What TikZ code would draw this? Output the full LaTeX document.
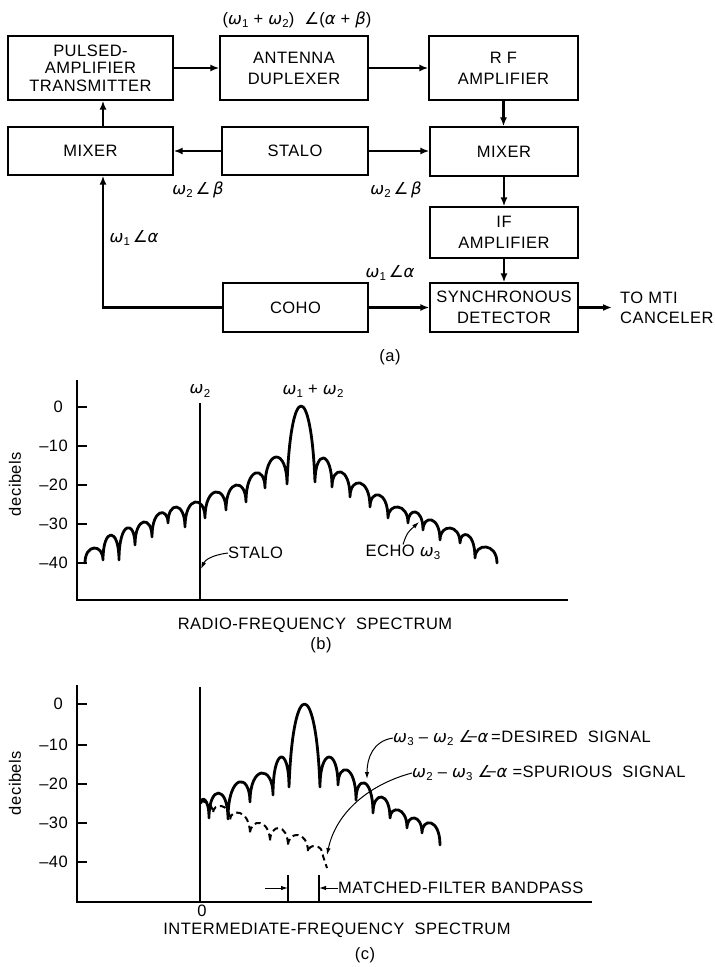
\documentclass[tikz,border=0pt]{standalone}
\usepackage{fontspec}
\setmainfont[LetterSpace=3]{Liberation Sans}
\newfontfamily\gk{DejaVu Sans}
\newcommand\w[1]{{\gk\itshape ω}\kern0.3pt\raisebox{-0.35ex}{\fontsize{11.5}{11.5}\selectfont #1}}
\newcommand\ang{{\gk ∠}}
\newcommand\angm{{\gk ∠}\kern-5.5pt\raisebox{0.5pt}{–}\kern0.5pt}
\newcommand\al{{\gk\itshape α}}
\newcommand\be{{\gk\itshape β}}
\usetikzlibrary{arrows.meta,calc}
\begin{document}
\begin{tikzpicture}[x=1pt,y=-1pt,
  box/.style={draw,line width=1.3pt,align=center,inner sep=0pt,font=\fontsize{16.5}{21}\selectfont},
  conn/.style={line width=2.4pt,-{Latex[length=9pt,width=7pt]}},
  lab/.style={font=\fontsize{16.5}{20}\selectfont,inner sep=0pt},
  ax/.style={line width=1.6pt},
  spec/.style={line width=2.8pt,line join=round,line cap=round},
  dspec/.style={line width=2pt,dash pattern=on 6pt off 4pt},
  pointer/.style={line width=1pt,-{Latex[length=7pt,width=4.5pt]}},
  thinline/.style={line width=1.3pt},
]
\useasboundingbox (0,0) rectangle (715,967);

% ---------------- (a) block diagram ----------------
\node[box,minimum width=165pt,minimum height=64pt,font=\fontsize{16.5}{17.5}\selectfont] (tx) at (90.5,68) {PULSED-\\AMPLIFIER\\TRANSMITTER};
\node[box,minimum width=148pt,minimum height=64pt] (dup) at (294,68) {ANTENNA\\DUPLEXER};
\node[box,minimum width=149pt,minimum height=64pt] (rf) at (503.5,68) {R F\\AMPLIFIER};
\node[box,minimum width=165pt,minimum height=48pt] (mixL) at (90.5,151) {MIXER};
\node[box,minimum width=146pt,minimum height=48pt] (stalo) at (295,151) {STALO};
\node[box,minimum width=148pt,minimum height=49pt] (mixR) at (504,151.5) {MIXER};
\node[box,minimum width=148pt,minimum height=51pt] (ifamp) at (504,232.5) {IF\\AMPLIFIER};
\node[box,minimum width=148pt,minimum height=49pt] (sync) at (504,307.5) {SYNCHRONOUS\\DETECTOR};
\node[box,minimum width=145pt,minimum height=49pt] (coho) at (295.5,307.5) {COHO};
\node[lab,anchor=west,align=left] (mti) at (620,308) {TO MTI\\CANCELER};
\coordinate (cx) at (103,0);
\coordinate (mtiend) at (612,307.5);

\draw[conn] (tx) -- (dup);
\draw[conn] (dup) -- (rf);
\draw[conn] (rf.south) -- (rf.south |- mixR.north);
\draw[conn] (mixR.south) -- (mixR.south |- ifamp.north);
\draw[conn] (ifamp.south) -- (ifamp.south |- sync.north);
\draw[conn] (stalo.west) -- (stalo.west -| mixL.east);
\draw[conn] (stalo.east) -- (stalo.east -| mixR.west);
\draw[conn] (mixL.north -| cx) -- (tx.south -| cx);
\draw[conn] (coho.west) -| (mixL.south -| cx);
\draw[conn] (coho.east) -- (coho.east -| sync.west);
\draw[conn] (sync.east) -- (mtiend);

\node[lab] (toplab) at (297,20) {(\w1 + \w2)\ \ \ang(\al\ + \be)};
\node[lab] (w2bL) at (198,190) {\w2\,\ang\,\be};
\node[lab] (w2bR) at (396,190) {\w2\,\ang\,\be};
\node[lab] (w1aL) at (134,238) {\w1\,\ang\al};
\node[lab] (w1aR) at (390,273) {\w1\,\ang\al};
\node[lab] (la) at (390,357) {(a)};

% ---------------- (b) RF spectrum ----------------
\draw[ax] (77,380) -- (77,600) -- (568,600);
\foreach \y/\t/\tx in {407/0/63,446/–10/68,485/–20/68,524/–30/68,563/–40/68}{
  \draw[ax] (77,\y) -- (87,\y);
  \node[lab,anchor=east] (tb\y) at (\tx,\y) {\t};
}
\node[lab,rotate=90] (db1) at (15,484) {decibels};
\draw[thinline] (200,403) -- (200,600);
\node[lab] (w2) at (200,391) {\w2};
\node[lab] (w12) at (313,391) {\w1 + \w2};

\draw[spec] (85,563) \foreach \xa/\ya/\xb/\yb/\p/\k in {
  85/563/103/560/548/0, 103/560/119/560/535/0, 119/560/135/545/528/0,
  135/545/152/537/522/0, 152/537/168/523/513/0, 168/523/185/527/507/0,
  185/527/205/518/502/0, 205/518/226/510/492/0, 226/510/246/502/485/0,
  246/502/265/488/473/0, 265/488/287/484/457/0, 287/484/315/482/406/4,
  315/482/332/487/458/0, 332/487/350/497/472/0, 350/497/370/507/483/0,
  370/507/388/518/495/0, 388/518/408/523/507/0, 408/523/423/530/512/0,
  423/530/440/540/520/0, 440/540/460/543/528/0, 460/543/475/558/535/0,
  475/558/497/563/547/0}
  { .. controls ({\xa+\k},{(\p-0.125*(\ya+\yb))/0.75}) and ({\xb-\k},{(\p-0.125*(\ya+\yb))/0.75}) .. (\xb,\yb) };

\node[lab,anchor=west] (stl) at (228,553) {STALO};
\draw[pointer] (stl.west) .. controls (212,555) and (205,560) .. (201,569);
\node[lab] (echo) at (403,552) {ECHO \w3};
\draw[pointer] (echo.north) .. controls (407,533) .. (419,522);
\node[lab] (rfs) at (315,625) {RADIO-FREQUENCY\ \ SPECTRUM};
\node[lab] (lb) at (321,645) {(b)};

% ---------------- (c) IF spectrum ----------------
\draw[ax] (77,685) -- (77,902) -- (592,902);
\foreach \y/\t/\tx in {704/0/63,745/–10/68,784/–20/68,823/–30/68,862/–40/68}{
  \draw[ax] (77,\y) -- (87,\y);
  \node[lab,anchor=east] (tc\y) at (\tx,\y) {\t};
}
\node[lab,rotate=90] (db2) at (15,783) {decibels};
\draw[thinline] (200,687) -- (200,902);
\node[lab] (zero) at (202,911) {0};

\draw[spec] (201,803) \foreach \xa/\ya/\xb/\yb/\p/\k in {
  201/803/209/818/800/0, 209/818/228/819/793/0, 228/819/250/802/782/0,
  250/802/273/795/773/0, 273/795/289/787/757/0, 289/787/320/787/704/4,
  320/787/338/785/757/0, 338/785/356/800/770/0, 356/800/373/813/783/0,
  373/813/390/818/797/0, 390/818/407/828/810/0, 407/828/422/833/818/0,
  422/833/440/845/823/0}
  { .. controls ({\xa+\k},{(\p-0.125*(\ya+\yb))/0.75}) and ({\xb-\k},{(\p-0.125*(\ya+\yb))/0.75}) .. (\xb,\yb) };

\draw[dspec] (201,800) \foreach \xa/\ya/\xb/\yb/\p in {
  201/800/213/813/803, 213/813/230/820/806, 230/820/250/834/813,
  250/834/270/842/823, 270/842/288/846/828, 288/846/308/852/835,
  308/852/323/856/846}
  { .. controls (\xa,{(\p-0.125*(\ya+\yb))/0.75}) and (\xb,{(\p-0.125*(\ya+\yb))/0.75}) .. (\xb,\yb) }
  -- (327,868);

\node[lab,anchor=west] (des) at (393,738) {\w3 – \w2 \angm\al\,=DESIRED\ \ SIGNAL};
\draw[pointer] (des.west) .. controls (373,741) and (367,758) .. (367,779);
\node[lab,anchor=west] (spu) at (412,773) {\w2 – \w3 \angm\al\ =SPURIOUS\ \ SIGNAL};
\draw[pointer] (spu.west) .. controls (370,784) and (336,812) .. (327,855);

\draw[thinline] (288,875) -- (288,902);
\draw[thinline] (319,875) -- (319,902);
\coordinate (mfa) at (288,888);
\coordinate (mfb) at (319,888);
\coordinate (mfl) at (265,888);
\draw[pointer] (mfl) -- (mfa);
\node[lab,anchor=west] (mf) at (338,888) {MATCHED-FILTER\ BANDPASS};
\draw[pointer] (mf.west) -- (mfb);
\node[lab] (ifs) at (337,930) {INTERMEDIATE-FREQUENCY\ \ SPECTRUM};
\node[lab] (lc) at (365,955) {(c)};
\end{tikzpicture}
\end{document}
